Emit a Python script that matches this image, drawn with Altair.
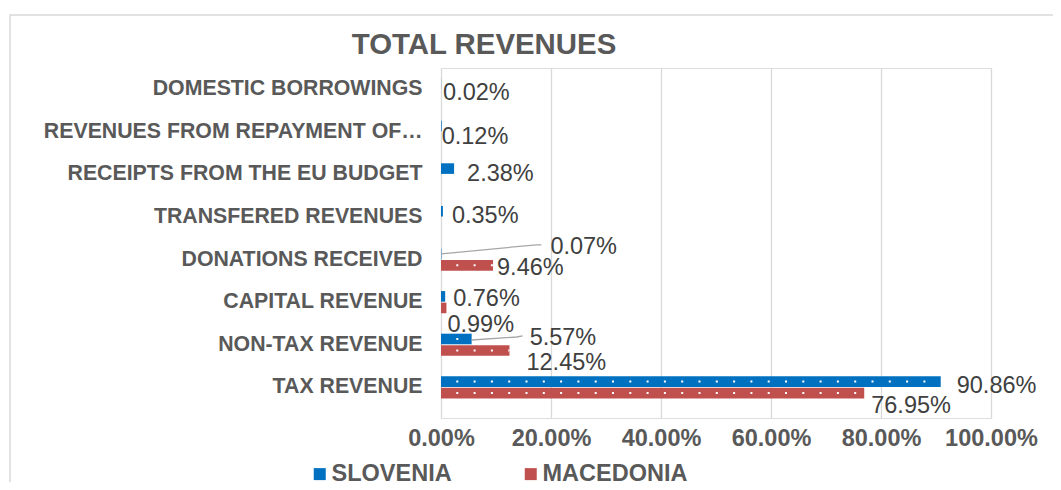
import altair as alt
import pandas as pd

FONT = "Liberation Sans, Arial, sans-serif"

categories = [
    "DOMESTIC BORROWINGS",
    "REVENUES FROM REPAYMENT OF…",
    "RECEIPTS FROM THE EU BUDGET",
    "TRANSFERED REVENUES",
    "DONATIONS RECEIVED",
    "CAPITAL REVENUE",
    "NON-TAX REVENUE",
    "TAX REVENUE",
]
series = ["SLOVENIA", "MACEDONIA"]
slovenia = [0.02, 0.12, 2.38, 0.35, 0.07, 0.76, 5.57, 90.86]
macedonia = [None, None, None, None, 9.46, 0.99, 12.45, 76.95]
x_ticks = [0, 20, 40, 60, 80, 100]
colors = ["#0070C0", "#C0504D"]

PLOT_W = 550
PLOT_H = 350

# manual data-label nudges (pixels: dx from bar end, dy from bar centre),
# mimicking the hand-placed labels of the original
label_nudge = {
    (0, 0): (2, 9), (1, 0): (0, 11), (2, 0): (13, 5), (3, 0): (9, 5),
    (4, 0): (109, -7), (4, 1): (4, 3),
    (5, 0): (8, 2), (5, 1): (1, 17),
    (6, 0): (58, -1), (6, 1): (17, 13),
    (7, 0): (16, 4), (7, 1): (7, 13),
}
# leader lines of moved labels (pixel points relative to bar end / bar centre)
leader_pts = {
    (4, 0): [(0, 0), (95, -9), (100, -9)],
    (6, 0): [(0, 1), (45, -2), (51, -3)],
}
SUB_CENTER = 5.3  # centre of the first sub-band, px from band start

rows = []
for i, (c, s, m) in enumerate(zip(categories, slovenia, macedonia)):
    rows.append({"category": c, "series": series[0], "value": s / 100, "key": f"{i}-0"})
    if m is not None:
        rows.append({"category": c, "series": series[1], "value": m / 100, "key": f"{i}-1"})
df = pd.DataFrame(rows)

leader_rows = []
for (ci, si), pts in leader_pts.items():
    v = (slovenia if si == 0 else macedonia)[ci] / 100
    for k, (ddx, ddy) in enumerate(pts):
        leader_rows.append({
            "lid": f"{ci}-{si}", "order": k, "category": categories[ci],
            "lx": v + ddx / PLOT_W, "ly": SUB_CENTER + ddy,
        })
ldf = pd.DataFrame(leader_rows)

base = alt.Chart(df)

y = alt.Y(
    "category:N",
    sort=categories,
    title=None,
    scale=alt.Scale(paddingInner=0.48, paddingOuter=0.348, align=0.34),
    axis=alt.Axis(
        domain=False, ticks=False, grid=False,
        labelFont=FONT, labelFontSize=21.3, labelFontWeight="bold",
        labelColor="#595959", labelPadding=19, labelLimit=420,
    ),
)
yoff = alt.YOffset("series:N", sort=series, scale=alt.Scale(domain=series, paddingInner=0.08))
x = alt.X(
    "value:Q",
    title=None,
    scale=alt.Scale(domain=[0, 1], nice=False),
    axis=alt.Axis(
        values=[t / 100 for t in x_ticks], format=".2%",
        domain=False, ticks=False, grid=True, gridColor="#D9D9D9", gridWidth=1.3,
        labelFont=FONT, labelFontSize=23.5, labelFontWeight="bold",
        labelColor="#595959", labelPadding=8, labelFlush=False, labelOverlap=False,
    ),
)
color = alt.Color(
    "series:N",
    sort=series,
    scale=alt.Scale(domain=series, range=colors),
    legend=alt.Legend(
        title=None, orient="none", legendX=-133, legendY=394,
        direction="horizontal", columns=2, symbolType="square", symbolSize=144,
        symbolStrokeWidth=0, labelFont=FONT, labelFontSize=23.5,
        labelFontWeight="bold", labelColor="#595959", labelOffset=0,
        columnPadding=67, padding=0, labelLimit=300,
    ),
)

frame = alt.Chart(alt.Data(values=[{"a": 0}])).mark_rect(
    fillOpacity=0, stroke="#D9D9D9", strokeWidth=1.5
).encode(
    x=alt.value(-431), x2=alt.value(700), y=alt.value(-53), y2=alt.value(500)
)

bars = base.mark_bar().encode(x=x, y=y, yOffset=yoff, color=color)

dots = base.transform_calculate(zero="0").mark_rule(
    stroke="white", strokeWidth=2, strokeDash=[2, 15.3], strokeDashOffset=2
).encode(x=alt.X("zero:Q", title=None), x2=alt.X2("value:Q"), y=y, yOffset=yoff)

leaders = alt.Chart(ldf).mark_line(color="#A6A6A6", strokeWidth=1.3).encode(
    x=alt.X("lx:Q", title=None),
    y=y,
    yOffset=alt.YOffset("ly:Q", scale=alt.Scale(domain=[-50, 50], range=[-50, 50])),
    detail="lid:N",
    order="order:Q",
)

label_text = alt.Text("value:Q", format=".2%")
label_layers = []
for (ci, si), (ddx, ddy) in label_nudge.items():
    key = f"{ci}-{si}"
    label_layers.append(
        base.transform_filter(alt.datum.key == key).mark_text(
            align="left", baseline="middle", dx=ddx, dy=ddy, font=FONT,
            fontSize=23.5, color="#404040",
        ).encode(x="value:Q", y=y, yOffset=yoff, text=label_text)
    )

chart = alt.layer(frame, bars, dots, leaders, *label_layers).resolve_scale(
    yOffset="independent"
).properties(
    width=PLOT_W,
    height=PLOT_H,
    autosize=alt.AutoSizeParams(type="none"),
    padding={"left": 433, "top": 60, "right": 62, "bottom": 64},
    title=alt.TitleParams(
        "TOTAL REVENUES", font=FONT, fontSize=29.4, fontWeight="bold",
        color="#595959", anchor="middle", dx=-232, offset=-69, baseline="alphabetic",
    ),
).configure_view(stroke="transparent").configure(background="white")

chart.save("out.html", embed_options={"renderer": "svg", "actions": False})
